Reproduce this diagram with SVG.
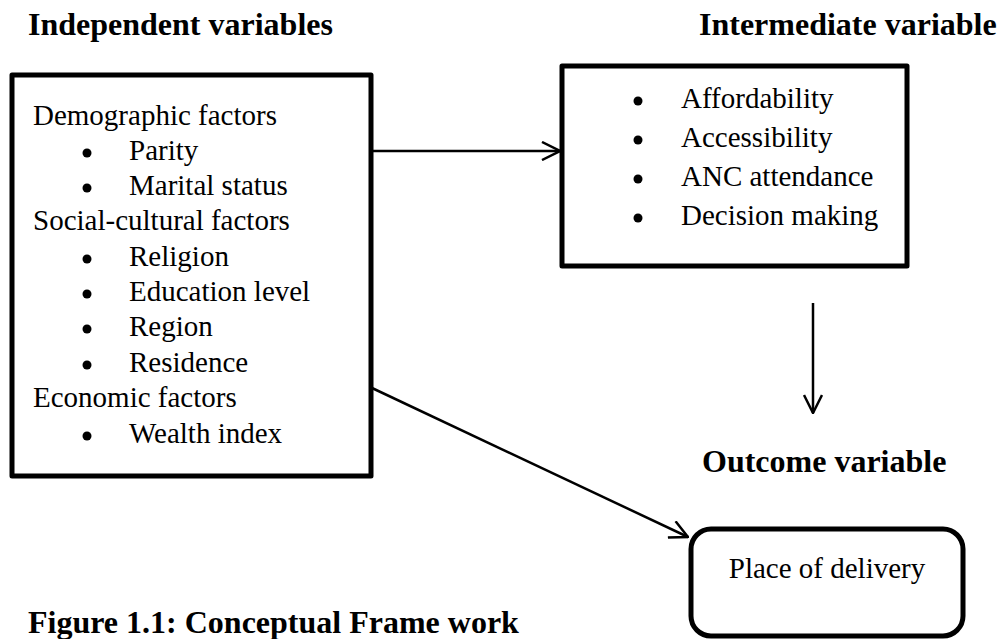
<svg xmlns="http://www.w3.org/2000/svg" width="998" height="639" viewBox="0 0 998 639">
<style>
text{font-family:"Liberation Serif","Times New Roman",serif;fill:#000}
.h{font-size:32px;font-weight:bold}
.t{font-size:29px}
.box{fill:#fff;stroke:#000;stroke-width:5;stroke-linejoin:round}
.b{fill:#000}
.c{stroke:#000;stroke-width:2.5;fill:none}
</style>
<defs>
<marker id="arr" viewBox="0 0 20 20" refX="19" refY="10" markerWidth="20" markerHeight="20" markerUnits="userSpaceOnUse" orient="auto">
<path d="M1,1 L19,10 L1,19" fill="none" stroke="#000" stroke-width="2.5"/>
</marker>
</defs>
<rect width="998" height="639" fill="#fff"/>
<text class="h" x="28" y="35">Independent variables</text>
<text class="h" x="699" y="35">Intermediate variable</text>
<text class="h" x="702" y="472">Outcome variable</text>
<text class="h" x="28" y="633">Figure 1.1: Conceptual Frame work</text>
<g id="independent">
<rect class="box" x="12" y="75" width="359" height="401"/>
<text class="t" x="33" y="125">Demographic factors</text>
<circle class="b" cx="87" cy="153" r="4.5"/><text class="t" x="129" y="160">Parity</text>
<circle class="b" cx="87" cy="188" r="4.5"/><text class="t" x="129" y="195">Marital status</text>
<text class="t" x="33" y="230">Social-cultural factors</text>
<circle class="b" cx="87" cy="259" r="4.5"/><text class="t" x="129" y="266">Religion</text>
<circle class="b" cx="87" cy="294" r="4.5"/><text class="t" x="129" y="301">Education level</text>
<circle class="b" cx="87" cy="329" r="4.5"/><text class="t" x="129" y="336">Region</text>
<circle class="b" cx="87" cy="365" r="4.5"/><text class="t" x="129" y="372">Residence</text>
<text class="t" x="33" y="407">Economic factors</text>
<circle class="b" cx="87" cy="436" r="4.5"/><text class="t" x="129" y="443">Wealth index</text>
</g>
<g id="intermediate">
<rect class="box" x="562" y="66" width="345" height="200"/>
<circle class="b" cx="638" cy="101" r="4.5"/><text class="t" x="681" y="108">Affordability</text>
<circle class="b" cx="638" cy="140" r="4.5"/><text class="t" x="681" y="147">Accessibility</text>
<circle class="b" cx="638" cy="179" r="4.5"/><text class="t" x="681" y="186">ANC attendance</text>
<circle class="b" cx="638" cy="218" r="4.5"/><text class="t" x="681" y="225">Decision making</text>
</g>
<g id="outcome">
<rect class="box" x="691" y="529" width="272" height="107" rx="20"/>
<text class="t" x="827" y="578" text-anchor="middle">Place of delivery</text>
</g>
<g id="connectors">
<line class="c" x1="371" y1="151" x2="560" y2="151" marker-end="url(#arr)"/>
<line class="c" x1="372" y1="388" x2="688" y2="537" marker-end="url(#arr)"/>
<line class="c" x1="813" y1="303" x2="813" y2="413" marker-end="url(#arr)"/>
</g>
</svg>
